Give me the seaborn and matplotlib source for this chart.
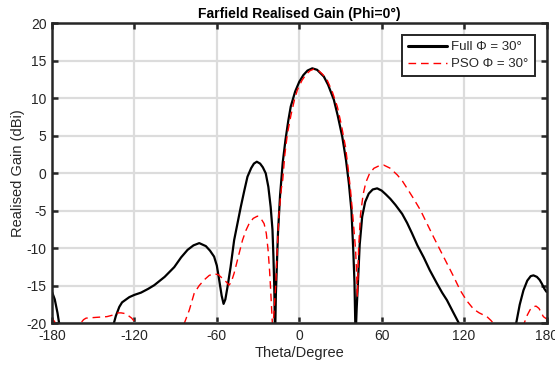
import numpy as np
import pandas as pd
import matplotlib
matplotlib.use("Agg")
import matplotlib.pyplot as plt
import seaborn as sns

# ---- data ----
full_theta = [-180, -178, -176, -174.8, -173.5, -155, -136, -135, -133.5, -131, -129, -126, -123.7,
              -120, -115.2, -110, -105.5, -98, -91, -86, -81.3, -77, -72.8, -68, -65, -62,
              -60, -58.3, -56.5, -55.1, -53.8, -52.2, -50, -47.4, -45, -42.6, -40, -37.7,
              -35, -33, -30.9, -28.5, -26.5, -24.4, -22.5, -20.8, -19.5, -18.8, -18.2,
              -17.6, -17.0, -15.5, -14, -12, -10, -8, -6.2, -3, 0, 3, 6, 9.5, 13, 17.9,
              21, 25.2, 28, 31.3, 34, 36.1, 38, 39.3, 40.2, 41, 41.8, 42.7, 44, 45.8, 48,
              50.6, 53.5, 56.7, 60, 63, 66.3, 70, 74.9, 78.5, 82.1, 86, 90.6, 95, 100.3,
              104, 107.5, 112, 116, 117.5, 140, 156, 157.9, 160.5, 163.2, 166, 168.5,
              170.5, 173, 175, 176.6, 178.5, 180]
full_gain = [-15.8, -16.8, -18.6, -20, -22, -30, -22, -20, -19.0, -17.8, -17.2, -16.8, -16.5,
             -16.2, -15.9, -15.4, -14.9, -13.8, -12.5, -11.2, -10.2, -9.6, -9.3, -9.7, -10.3, -11.1,
             -12.3, -14.2, -16.3, -17.4, -16.8, -15.1, -12.5, -8.9, -6.7, -4.5, -2.3, -0.45,
             0.7, 1.3, 1.55, 1.3, 0.8, 0.0, -1.8, -4.5, -7.5, -11.1, -15.0,
             -22, -16, -8, -3, 1.5, 4.5, 7.0, 8.9, 10.9, 12.2, 13.1, 13.7, 14.0, 13.8, 12.9,
             11.8, 9.8, 7.7, 4.9, 1.8, -1.3, -5.0, -10.2, -14.5, -22, -18, -14.7, -9.5, -5.8, -3.8,
             -2.7, -2.15, -2.0, -2.3, -2.8, -3.4, -4.2, -5.4, -6.6, -8.0, -9.6, -11.2, -12.9, -14.7,
             -15.9, -16.9, -18.5, -19.9, -20.5, -28, -21.5, -20, -17.5, -15.6, -14.3, -13.7,
             -13.6, -13.8, -14.2, -14.7, -15.4, -15.8]

pso_theta = [-180, -178, -176.5, -170, -162, -159.3, -157, -155.2, -147.9, -140, -135.8, -132,
             -129.7, -126.5, -124.9, -122, -118.8, -115, -100, -87, -83.7, -80, -76.5, -73,
             -69.2, -65.5, -62, -59, -55.9, -53, -51.1, -49.5, -47.4, -44.5, -41.3, -38.8,
             -36.5, -33.5, -30.4, -28, -25.6, -24, -22.7, -21.6, -20.8, -19.3, -17, -16,
             -14.8, -13, -12, -10.5, -8.6, -6, -3.5, -1.4, 2, 5, 8, 10.7, 14, 17, 20.4, 24,
             27.7, 30.5, 33.7, 35.5, 37.3, 39, 41, 41.8, 42.3, 43.2, 44.6, 46.5, 48.5, 51,
             54.3, 58, 61.5, 66, 71.3, 75, 78.5, 83, 88.2, 93, 97.8, 102.5, 107.5, 112.5,
             117.2, 122, 126.9, 131, 136.6, 139.5, 141.4, 143, 150, 160, 163.7, 166, 168,
             170, 172.4, 174.5, 176, 177.7, 180]
pso_gain = [-19.3, -19.8, -21, -25, -22, -20, -19.5, -19.3, -19.2, -19.1, -18.9, -18.6,
            -18.6, -18.7, -18.9, -19.3, -20, -22, -28, -22, -20, -18.2, -16.0, -15.0,
            -14.2, -13.6, -13.4, -13.5, -14.0, -14.5, -14.9, -14.5, -13.3, -11.2, -8.9, -7.6,
            -6.7, -6.0, -5.7, -6.0, -6.7, -8.0, -10.2, -13.0, -15.6, -21, -14.5, -10,
            -5.5, -2.0, -0.8, 2.5, 5.3, 7.8, 9.8, 11.1, 12.4, 13.2, 13.7, 13.9, 13.7, 13.2, 12.4, 10.9,
            8.9, 6.6, 3.5, 0.8, -2.2, -5.7, -10.2, -13.5, -16.5, -10, -5.5, -2.8, -1.2, -0.1,
            0.67, 1.0, 1.1, 0.7, -0.2, -1.0, -2.0, -3.3, -4.9, -6.7, -8.5, -10.2, -12.0, -13.8,
            -15.6, -17.0, -18.1, -18.6, -19.1, -19.6, -20, -21, -25, -23, -20, -18.9, -18.2,
            -17.8, -17.7, -18.0, -18.5, -19.1, -19.4]

x_ticks = [-180, -120, -60, 0, 60, 120, 180]
y_ticks = [-20, -15, -10, -5, 0, 5, 10, 15, 20]

df_full = pd.DataFrame({"theta": full_theta, "gain": full_gain})
df_pso = pd.DataFrame({"theta": pso_theta, "gain": pso_gain})

sns.set_theme(style="white")
plt.rcParams['font.family'] = ['Liberation Sans', 'DejaVu Sans']
plt.rcParams['axes.unicode_minus'] = False

dark = "#262626"
fig = plt.figure(figsize=(5.55, 3.70), dpi=100)
ax = fig.add_axes([0.0937, 0.126, 0.891, 0.811])

sns.lineplot(data=df_full, x="theta", y="gain", ax=ax, sort=False, estimator=None,
             color="black", linewidth=1.6, label="Full \u03a6 = 30\u00b0")
sns.lineplot(data=df_pso, x="theta", y="gain", ax=ax, sort=False, estimator=None,
             color="#ff0000", linewidth=1.0, label="PSO \u03a6 = 30\u00b0")
ax.lines[1].set_linestyle((0, (5.5, 3.5)))

ax.set_xlim(-180, 180)
ax.set_ylim(-20, 20)
ax.set_xticks(x_ticks)
ax.set_yticks(y_ticks)
ax.grid(True, color="#dcdcdc", linewidth=1.6)
ax.set_axisbelow(True)
for s in ax.spines.values():
    s.set_color(dark)
    s.set_linewidth(1.8)
    s.set_visible(True)
ax.tick_params(direction="in", length=4.5, width=1.8, color=dark, labelcolor=dark,
               labelsize=10, top=True, right=True, bottom=True, left=True, pad=4)

ax.set_title("Farfield Realised Gain (Phi=0\u00b0)", fontsize=10, fontweight="bold",
             color="black", pad=4)
ax.set_xlabel("Theta/Degree", fontsize=10.5, color=dark, labelpad=2)
ax.set_ylabel("Realised Gain (dBi)", fontsize=10.5, color=dark, labelpad=1)

leg = ax.legend(loc="upper right", fontsize=9.5, frameon=True, fancybox=False,
                borderpad=0.45, handlelength=3.0, handletextpad=0.3, labelspacing=0.35,
                borderaxespad=0.9)
leg.get_frame().set_edgecolor(dark)
leg.get_frame().set_linewidth(1.4)
leg.get_frame().set_facecolor("white")
leg.get_frame().set_alpha(1)
leg.legend_handles[0].set_linewidth(2.2)
leg.legend_handles[1].set_linewidth(1.0)
leg.legend_handles[1].set_linestyle((0, (5.5, 3.5)))

fig.savefig("out.png", dpi=100)
